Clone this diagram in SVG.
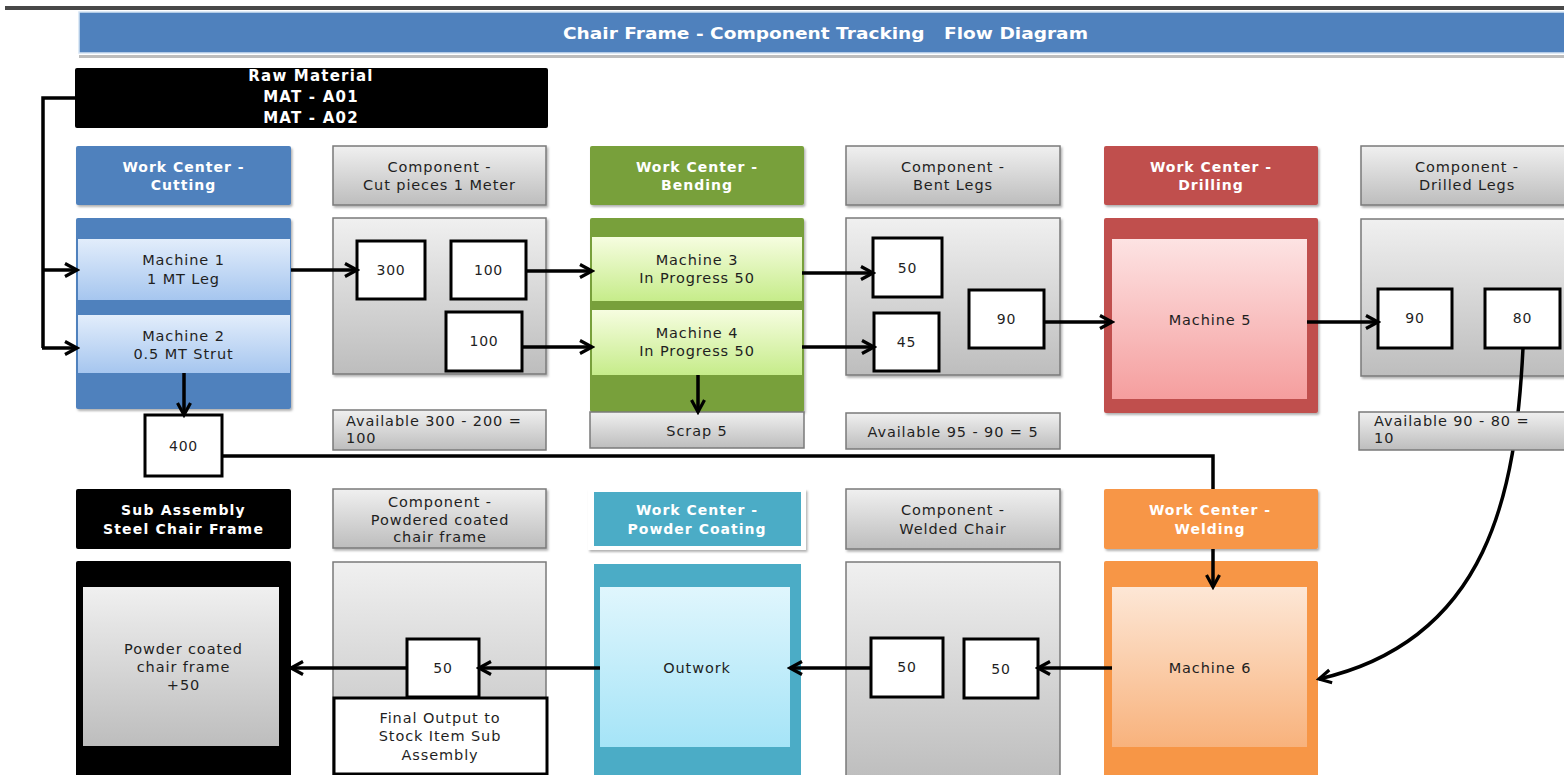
<svg xmlns="http://www.w3.org/2000/svg" width="1564" height="775" viewBox="0 0 1564 775">
<style>
.tx{font-family:"DejaVu Sans","Liberation Sans",sans-serif;text-anchor:middle;dominant-baseline:central}
.hd{font-size:14px;font-weight:bold;fill:#fff;letter-spacing:1px}
.bk{font-size:15px;font-weight:bold;fill:#fff;letter-spacing:1.2px}
.cp{font-size:14.5px;fill:#1f1f1f;letter-spacing:0.9px}
.nm{font-size:14px;fill:#1f1f1f;letter-spacing:0.8px}
.lt{text-anchor:start}
.gh{fill:url(#gGray);stroke:#7a7a7a;stroke-width:1.5}
.nb{fill:#fff;stroke:#000;stroke-width:3}
.cn{fill:none;stroke:#000;stroke-width:3.5}
.ar{marker-end:url(#arw)}
</style>
<defs>
<linearGradient id="gGray" x1="0" y1="0" x2="0" y2="1"><stop offset="0" stop-color="#f0f0f0"/><stop offset="1" stop-color="#bdbdbd"/></linearGradient>
<linearGradient id="gBlue" x1="0" y1="0" x2="0" y2="1"><stop offset="0" stop-color="#e2edfb"/><stop offset="1" stop-color="#a6c6ef"/></linearGradient>
<linearGradient id="gGreen" x1="0" y1="0" x2="0" y2="1"><stop offset="0" stop-color="#f6fde0"/><stop offset="1" stop-color="#c6ec8a"/></linearGradient>
<linearGradient id="gPink" x1="0" y1="0" x2="0" y2="1"><stop offset="0" stop-color="#fde3e3"/><stop offset="1" stop-color="#f59e9e"/></linearGradient>
<linearGradient id="gCyan" x1="0" y1="0" x2="0" y2="1"><stop offset="0" stop-color="#e0f6fd"/><stop offset="1" stop-color="#a5e4f7"/></linearGradient>
<linearGradient id="gOrange" x1="0" y1="0" x2="0" y2="1"><stop offset="0" stop-color="#fde7d6"/><stop offset="1" stop-color="#f8b27c"/></linearGradient>
<filter id="sh" x="-5%" y="-5%" width="112%" height="115%"><feDropShadow dx="1.5" dy="2" stdDeviation="1.2" flood-color="#000" flood-opacity="0.3"/></filter>
<marker id="arw" viewBox="0 0 18 18" refX="15" refY="9" markerWidth="18" markerHeight="18" markerUnits="userSpaceOnUse" orient="auto">
<path d="M3,2.5 L15,9 L3,15.5" fill="none" stroke="#000" stroke-width="3.2" stroke-linejoin="miter"/>
</marker>
</defs>
<rect width="1564" height="775" fill="#fff"/>

<g id="title">
<rect x="5" y="6" width="1559" height="4" fill="#484848"/>
<rect x="79" y="55" width="1490" height="3" fill="#bdbdbd"/>
<rect x="79" y="12" width="1490" height="41" fill="#4f81bd" stroke="#d4e3f4" stroke-width="1.5"/>
<text class="tx" x="825.5" y="34" font-size="15" font-weight="bold" fill="#fff" textLength="525" lengthAdjust="spacingAndGlyphs" xml:space="preserve">Chair Frame - Component Tracking   Flow Diagram</text>
</g>

<g id="raw-material">
<rect x="75" y="68" width="473" height="60" rx="2" fill="#000"/>
<text class="tx bk" x="311" y="76">Raw Material</text>
<text class="tx bk" x="311" y="97">MAT - A01</text>
<text class="tx bk" x="311" y="118">MAT - A02</text>
</g>

<g id="wc-cutting">
<rect x="76" y="146" width="215" height="59" rx="2" fill="#4f81bd" filter="url(#sh)"/>
<text class="tx hd" x="183.5" y="167">Work Center -</text>
<text class="tx hd" x="183.5" y="185">Cutting</text>
</g>
<g id="cutting-body">
<rect x="76" y="218" width="215" height="191" rx="2" fill="#4f81bd" filter="url(#sh)"/>
<rect x="78" y="239" width="212" height="61" fill="url(#gBlue)"/>
<rect x="78" y="315" width="212" height="58" fill="url(#gBlue)"/>
</g>
<g id="machine-1"><text class="tx cp" x="183.5" y="260">Machine 1</text><text class="tx cp" x="183.5" y="279">1 MT Leg</text></g>
<g id="machine-2"><text class="tx cp" x="183.5" y="336">Machine 2</text><text class="tx cp" x="183.5" y="354">0.5 MT Strut</text></g>
<g id="box-400"><rect class="nb" x="145" y="415" width="77" height="61"/><text class="tx nm" x="183.5" y="446">400</text></g>

<g id="comp-cut">
<rect class="gh" x="333" y="146" width="213" height="59" filter="url(#sh)"/>
<text class="tx cp" x="439.5" y="167">Component -</text>
<text class="tx cp" x="439.5" y="185">Cut pieces 1 Meter</text>
</g>
<g id="comp-cut-body"><rect class="gh" x="333" y="218" width="213" height="156" filter="url(#sh)"/></g>
<g id="box-300"><rect class="nb" x="357" y="241" width="68" height="58"/><text class="tx nm" x="391" y="270">300</text></g>
<g id="box-100a"><rect class="nb" x="451" y="241" width="75" height="58"/><text class="tx nm" x="488.5" y="270">100</text></g>
<g id="box-100b"><rect class="nb" x="446" y="312" width="76" height="59"/><text class="tx nm" x="484" y="341">100</text></g>
<g id="avail-1">
<rect class="gh" x="333" y="410" width="213" height="40"/>
<text class="tx cp lt" x="346" y="421">Available 300 - 200 =</text>
<text class="tx cp lt" x="346" y="438">100</text>
</g>

<g id="wc-bending">
<rect x="590" y="146" width="214" height="59" rx="2" fill="#78a03a" filter="url(#sh)"/>
<text class="tx hd" x="697" y="167">Work Center -</text>
<text class="tx hd" x="697" y="185">Bending</text>
</g>
<g id="bending-body">
<rect x="590" y="218" width="214" height="194" rx="2" fill="#78a03a" filter="url(#sh)"/>
<rect x="592" y="237" width="210" height="64" fill="url(#gGreen)"/>
<rect x="592" y="310" width="210" height="65" fill="url(#gGreen)"/>
</g>
<g id="machine-3"><text class="tx cp" x="697" y="260">Machine 3</text><text class="tx cp" x="697" y="278">In Progress 50</text></g>
<g id="machine-4"><text class="tx cp" x="697" y="333">Machine 4</text><text class="tx cp" x="697" y="351">In Progress 50</text></g>
<g id="scrap"><rect class="gh" x="590" y="412" width="214" height="36"/><text class="tx cp" x="697" y="431">Scrap 5</text></g>

<g id="comp-bent">
<rect class="gh" x="846" y="146" width="214" height="59" filter="url(#sh)"/>
<text class="tx cp" x="953" y="167">Component -</text>
<text class="tx cp" x="953" y="185">Bent Legs</text>
</g>
<g id="comp-bent-body"><rect class="gh" x="846" y="218" width="214" height="157" filter="url(#sh)"/></g>
<g id="box-50a"><rect class="nb" x="873" y="238" width="69" height="59"/><text class="tx nm" x="907.5" y="268">50</text></g>
<g id="box-45"><rect class="nb" x="874" y="313" width="65" height="58"/><text class="tx nm" x="906.5" y="342">45</text></g>
<g id="box-90a"><rect class="nb" x="969" y="290" width="75" height="58"/><text class="tx nm" x="1006.5" y="319">90</text></g>
<g id="avail-2"><rect class="gh" x="846" y="413" width="214" height="36"/><text class="tx cp" x="953" y="432">Available 95 - 90 = 5</text></g>

<g id="wc-drilling">
<rect x="1104" y="146" width="214" height="59" rx="2" fill="#c0504d" filter="url(#sh)"/>
<text class="tx hd" x="1211" y="167">Work Center -</text>
<text class="tx hd" x="1211" y="185">Drilling</text>
</g>
<g id="machine-5">
<rect x="1104" y="218" width="214" height="195" rx="2" fill="#c0504d" filter="url(#sh)"/>
<rect x="1112" y="239" width="195" height="160" fill="url(#gPink)"/>
<text class="tx cp" x="1210" y="320">Machine 5</text>
</g>

<g id="comp-drilled">
<rect class="gh" x="1361" y="146" width="215" height="59" filter="url(#sh)"/>
<text class="tx cp" x="1467" y="167">Component -</text>
<text class="tx cp" x="1467" y="185">Drilled Legs</text>
</g>
<g id="comp-drilled-body"><rect class="gh" x="1361" y="219" width="215" height="157" filter="url(#sh)"/></g>
<g id="box-90b"><rect class="nb" x="1378" y="289" width="74" height="59"/><text class="tx nm" x="1415" y="318">90</text></g>
<g id="box-80"><rect class="nb" x="1485" y="289" width="75" height="59"/><text class="tx nm" x="1522.5" y="318">80</text></g>

<g id="sub-assembly">
<rect x="76" y="489" width="215" height="60" rx="2" fill="#000"/>
<text class="tx bk" x="183.5" y="510" style="font-size:14px">Sub Assembly</text>
<text class="tx bk" x="183.5" y="529" style="font-size:14px">Steel Chair Frame</text>
</g>
<g id="sub-assembly-body">
<rect x="76" y="561" width="215" height="220" rx="2" fill="#000"/>
<rect x="83" y="587" width="196" height="159" fill="url(#gGray)"/>
<text class="tx cp" x="183.5" y="649">Powder coated</text>
<text class="tx cp" x="183.5" y="667">chair frame</text>
<text class="tx cp" x="183.5" y="685">+50</text>
</g>

<g id="comp-powdered">
<rect class="gh" x="333" y="489" width="213" height="59" filter="url(#sh)"/>
<text class="tx cp" x="440" y="502">Component -</text>
<text class="tx cp" x="440" y="520">Powdered coated</text>
<text class="tx cp" x="440" y="537">chair frame</text>
</g>
<g id="comp-powdered-body"><rect class="gh" x="333" y="562" width="213" height="220"/></g>
<g id="box-50b"><rect class="nb" x="407" y="639" width="72" height="58"/><text class="tx nm" x="443" y="668">50</text></g>
<g id="final-output">
<rect class="nb" x="334" y="698" width="213" height="76" stroke-width="2.5"/>
<text class="tx cp" x="440" y="718">Final Output to</text>
<text class="tx cp" x="440" y="736">Stock Item Sub</text>
<text class="tx cp" x="440" y="755">Assembly</text>
</g>

<g id="wc-powder">
<rect x="588" y="489" width="218" height="61" fill="#fff" filter="url(#sh)"/>
<rect x="594" y="492" width="207" height="54" fill="#4bacc6"/>
<text class="tx hd" x="697" y="510">Work Center -</text>
<text class="tx hd" x="697" y="529">Powder Coating</text>
</g>
<g id="outwork">
<rect x="594" y="564" width="207" height="215" fill="#4bacc6"/>
<rect x="600" y="587" width="190" height="160" fill="url(#gCyan)"/>
<text class="tx cp" x="697" y="668">Outwork</text>
</g>

<g id="comp-welded">
<rect class="gh" x="846" y="489" width="214" height="60" filter="url(#sh)"/>
<text class="tx cp" x="953" y="510">Component -</text>
<text class="tx cp" x="953" y="529">Welded Chair</text>
</g>
<g id="comp-welded-body"><rect class="gh" x="846" y="562" width="214" height="220"/></g>
<g id="box-50c"><rect class="nb" x="871" y="638" width="72" height="59"/><text class="tx nm" x="907" y="667">50</text></g>
<g id="box-50d"><rect class="nb" x="964" y="639" width="74" height="59"/><text class="tx nm" x="1001" y="669">50</text></g>

<g id="wc-welding">
<rect x="1104" y="489" width="214" height="60" rx="2" fill="#f79646" filter="url(#sh)"/>
<text class="tx hd" x="1210" y="510">Work Center -</text>
<text class="tx hd" x="1210" y="529">Welding</text>
</g>
<g id="machine-6">
<rect x="1104" y="561" width="214" height="220" rx="2" fill="#f79646"/>
<rect x="1112" y="587" width="195" height="160" fill="url(#gOrange)"/>
<text class="tx cp" x="1210" y="668">Machine 6</text>
</g>

<g id="connectors">
<polyline class="cn" points="75,98 43,98 43,348"/>
<line class="cn ar" x1="43" y1="270" x2="77" y2="270"/>
<line class="cn ar" x1="42" y1="348" x2="77" y2="348"/>
<line class="cn ar" x1="291" y1="270" x2="357" y2="270"/>
<line class="cn ar" x1="184" y1="373" x2="184" y2="415"/>
<polyline class="cn" points="222,456 1213,456 1213,489"/>
<line class="cn ar" x1="1213" y1="549" x2="1213" y2="587"/>
<line class="cn ar" x1="526" y1="271" x2="592" y2="271"/>
<line class="cn ar" x1="522" y1="347" x2="592" y2="347"/>
<line class="cn ar" x1="698" y1="375" x2="698" y2="412"/>
<line class="cn ar" x1="802" y1="273" x2="873" y2="273"/>
<line class="cn ar" x1="802" y1="347" x2="874" y2="347"/>
<line class="cn ar" x1="1044" y1="322" x2="1112" y2="322"/>
<line class="cn ar" x1="1307" y1="322" x2="1378" y2="322"/>
<path class="cn ar" d="M1523,348 C1516,490 1490,640 1319,679"/>
<line class="cn ar" x1="1112" y1="668" x2="1038" y2="668"/>
<line class="cn ar" x1="871" y1="668" x2="790" y2="668"/>
<line class="cn ar" x1="600" y1="668" x2="479" y2="668"/>
<line class="cn ar" x1="407" y1="668" x2="291" y2="668"/>
</g>

<g id="avail-3">
<rect class="gh" x="1359" y="412" width="212" height="38"/>
<text class="tx cp lt" x="1374" y="421">Available 90 - 80 =</text>
<text class="tx cp lt" x="1374" y="438">10</text>
</g>
</svg>
